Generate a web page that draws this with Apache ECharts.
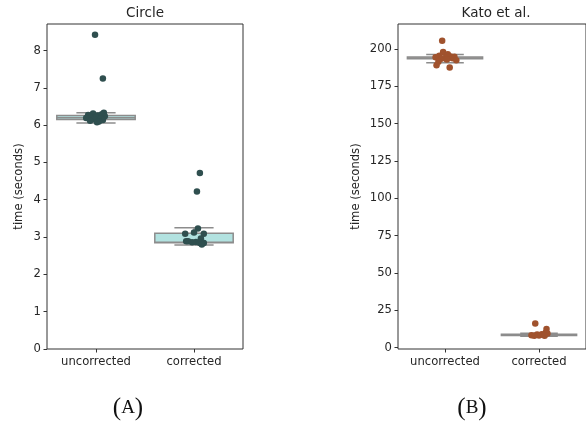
<!DOCTYPE html>
<html>
<head>
<meta charset="utf-8">
<script src="https://cdn.jsdelivr.net/npm/echarts@6/dist/echarts.min.js"></script>
<style>
  html, body { margin: 0; padding: 0; background: #fff; }
  #chart { width: 586px; height: 423px; }
</style>
</head>
<body>
<div id="chart"></div>
<script>
// Categories shared by both panels
const categories = ['uncorrected', 'corrected'];

// Panel A: "Circle" timings (seconds)
const circleUncorrected = [8.42, 7.25, 6.33, 6.31, 6.29, 6.27, 6.26, 6.24, 6.22, 6.21, 6.19, 6.18, 6.16, 6.14, 6.12, 6.10, 6.08];
const circleUncorrectedJitter = [-0.01, 0.07, 0.08, -0.03, 0.06, -0.08, 0.02, 0.09, -0.05, 0.00, -0.10, 0.05, -0.02, 0.07, -0.06, 0.03, 0.01];
const circleCorrected = [4.72, 4.22, 3.23, 3.12, 3.09, 3.09, 2.96, 2.89, 2.89, 2.87, 2.86, 2.85, 2.84, 2.84, 2.80];
const circleCorrectedJitter = [0.06, 0.03, 0.04, 0.00, -0.09, 0.10, 0.07, -0.08, -0.06, 0.02, -0.02, 0.09, 0.06, 0.10, 0.08];
// [category index, whisker low, Q1, median, Q3, whisker high]
const circleBoxes = [
  [0, 6.06, 6.15, 6.20, 6.26, 6.33],
  [1, 2.79, 2.85, 2.86, 3.10, 3.25]
];

// Panel B: "Kato et al." timings (seconds)
const katoUncorrected = [205.5, 198.0, 196.5, 195.5, 195.0, 194.8, 194.5, 194.0, 193.8, 193.5, 193.0, 192.5, 191.5, 189.0, 187.5];
const katoUncorrectedJitter = [-0.03, -0.02, 0.03, -0.06, 0.06, 0.10, -0.10, 0.00, 0.08, -0.04, 0.02, 0.12, -0.07, -0.09, 0.05];
const katoCorrected = [16.2, 12.5, 10.0, 9.5, 9.0, 8.8, 8.5, 8.3, 8.2, 8.0, 7.9];
const katoCorrectedJitter = [-0.04, 0.08, 0.07, 0.09, 0.03, -0.02, 0.05, -0.08, 0.00, -0.05, 0.06];
const katoBoxes = [
  [0, 190.7, 193.4, 194.0, 194.6, 196.3],
  [1, 7.6, 8.1, 8.5, 8.9, 9.6]
];

// Y tick positions
const circleTicks = [0, 1, 2, 3, 4, 5, 6, 7, 8];
const katoTicks = [0, 25, 50, 75, 100, 125, 150, 175, 200];

const edgeColor = '#8c8c8c';
const textColor = '#262626';
const baseFont = 'DejaVu Sans';
const labelSize = 11.6;

function points(values, jitter, cat) {
  return values.map((v, i) => [cat + jitter[i], v]);
}

// Seaborn-style box: box with median, whiskers, and half-width caps
function renderBox(fill) {
  return function (params, api) {
    const c = api.value(0);
    const lo = api.value(1), q1 = api.value(2), med = api.value(3), q3 = api.value(4), hi = api.value(5);
    const half = 0.4, capHalf = 0.2;
    const pL = api.coord([c - half, q3]);
    const pR = api.coord([c + half, q1]);
    const cx = api.coord([c, med])[0];
    const yLo = api.coord([c, lo])[1], yHi = api.coord([c, hi])[1];
    const yQ1 = api.coord([c, q1])[1], yQ3 = api.coord([c, q3])[1], yMed = api.coord([c, med])[1];
    const capL = api.coord([c - capHalf, lo])[0], capR = api.coord([c + capHalf, lo])[0];
    const lineStyle = { stroke: edgeColor, lineWidth: 1.5 };
    return {
      type: 'group',
      children: [
        { type: 'line', shape: { x1: cx, y1: yQ3, x2: cx, y2: yHi }, style: lineStyle },
        { type: 'line', shape: { x1: cx, y1: yQ1, x2: cx, y2: yLo }, style: lineStyle },
        { type: 'line', shape: { x1: capL, y1: yHi, x2: capR, y2: yHi }, style: lineStyle },
        { type: 'line', shape: { x1: capL, y1: yLo, x2: capR, y2: yLo }, style: lineStyle },
        { type: 'rect', shape: { x: pL[0], y: yQ3, width: pR[0] - pL[0], height: Math.max(yQ1 - yQ3, 0.5) },
          style: { fill: fill, stroke: edgeColor, lineWidth: 1.5 } },
        { type: 'line', shape: { x1: pL[0], y1: yMed, x2: pR[0], y2: yMed }, style: lineStyle }
      ]
    };
  };
}

function xAxisFor(gridIndex) {
  return {
    type: 'value', gridIndex: gridIndex, min: -0.5, max: 1.5, position: 'bottom',
    axisLine: { show: false, onZero: false },
    splitLine: { show: false },
    axisTick: { show: true, customValues: [0, 1], length: 3.5, lineStyle: { color: '#333', width: 1 } },
    axisLabel: { customValues: [0, 1], margin: 7, color: textColor, fontFamily: baseFont, fontSize: labelSize,
      formatter: v => categories[Math.round(v)] }
  };
}

function yAxisFor(gridIndex, min, max, ticks, nameGap) {
  return {
    type: 'value', gridIndex: gridIndex, min: min, max: max, position: 'left',
    name: 'time (seconds)', nameLocation: 'middle', nameGap: nameGap, nameRotate: 90,
    nameTextStyle: { color: textColor, fontFamily: baseFont, fontSize: labelSize },
    axisLine: { show: false, onZero: false },
    splitLine: { show: false },
    axisTick: { show: true, customValues: ticks, length: 3.5, lineStyle: { color: '#333', width: 1 } },
    axisLabel: { customValues: ticks, margin: 6, color: textColor, fontFamily: baseFont, fontSize: labelSize }
  };
}

function panelLabel(letter, x) {
  return {
    type: 'text', x: x, y: 408,
    style: {
      text: '{p|(}{l|' + letter + '}{p|)}', align: 'center', verticalAlign: 'middle',
      rich: {
        p: { fontFamily: 'Liberation Serif', fontSize: 25, fontWeight: 'normal', fill: '#111' },
        l: { fontFamily: 'Liberation Serif', fontSize: 19, fontWeight: 'normal', fill: '#111' }
      }
    }
  };
}

function panelTitle(text, x) {
  return {
    type: 'text', x: x, y: 13,
    style: { text: text, align: 'center', verticalAlign: 'middle', fontFamily: baseFont, fontSize: 13.5, fill: textColor }
  };
}

const chart = echarts.init(document.getElementById('chart'), null, { renderer: 'canvas' });

chart.setOption({
  animation: false,
  backgroundColor: '#fff',
  graphic: [
    panelTitle('Circle', 145),
    panelTitle('Kato et al.', 496),
    panelLabel('A', 128),
    panelLabel('B', 472)
  ],
  grid: [
    { left: 47, top: 24, width: 196, height: 325, show: true, borderColor: '#333', borderWidth: 1, backgroundColor: 'transparent' },
    { left: 398, top: 24, width: 196, height: 325, show: true, borderColor: '#333', borderWidth: 1, backgroundColor: 'transparent' }
  ],
  xAxis: [xAxisFor(0), xAxisFor(1)],
  yAxis: [
    yAxisFor(0, 0, 8.71, circleTicks, 22),
    yAxisFor(1, -0.9, 216.7, katoTicks, 36)
  ],
  series: [
    { type: 'custom', xAxisIndex: 0, yAxisIndex: 0, renderItem: renderBox('#b2e2e0'), data: circleBoxes, z: 2 },
    { type: 'custom', xAxisIndex: 1, yAxisIndex: 1, renderItem: renderBox('#e9c7b4'), data: katoBoxes, z: 2 },
    { type: 'scatter', xAxisIndex: 0, yAxisIndex: 0, symbolSize: 6.5, z: 3,
      itemStyle: { color: '#2f4f4f', opacity: 1 },
      data: points(circleUncorrected, circleUncorrectedJitter, 0).concat(points(circleCorrected, circleCorrectedJitter, 1)) },
    { type: 'scatter', xAxisIndex: 1, yAxisIndex: 1, symbolSize: 6.5, z: 3,
      itemStyle: { color: '#a0522d', opacity: 1 },
      data: points(katoUncorrected, katoUncorrectedJitter, 0).concat(points(katoCorrected, katoCorrectedJitter, 1)) }
  ]
});
</script>
</body>
</html>
